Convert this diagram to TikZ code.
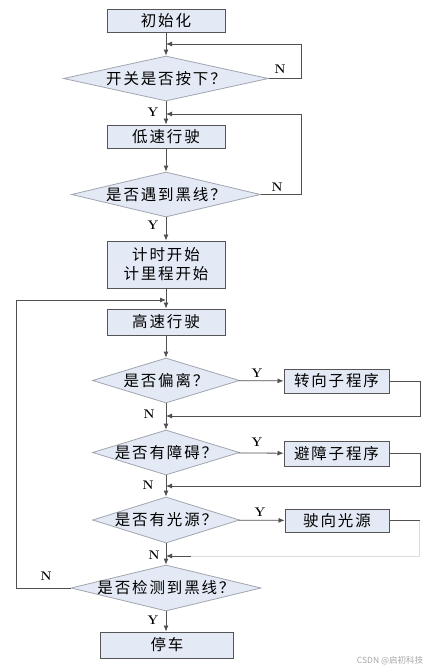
\documentclass[tikz,border=0pt]{standalone}
\usepackage{fontspec}
\usepackage{tikz}
\usetikzlibrary{arrows.meta, shapes.geometric, calc}
\newfontfamily\cjk[LetterSpace=12]{Noto Sans CJK SC}
\newfontfamily\cjkmark{Noto Sans CJK SC}
\definecolor{boxF}{RGB}{228,234,245}
\definecolor{boxD}{RGB}{85,85,85}
\definecolor{diaD}{RGB}{160,165,175}
\definecolor{lineC}{RGB}{80,80,80}
\definecolor{lineL}{RGB}{220,220,220}
\tikzset{
  procbox/.style={draw=boxD, line width=1pt, fill=boxF, inner sep=0pt,
    align=center, font=\cjk\fontsize{15.5}{19}\selectfont},
  testbox/.style={diamond, draw=diaD, line width=0.8pt, fill=boxF,
    inner xsep=-25pt, inner ysep=-6pt,
    aspect=5, minimum height=45pt, font=\cjk\fontsize{15.5}{19}\selectfont},
  flow/.style={draw=lineC, line width=0.8pt},
  arr/.style={flow, -{Latex[length=6pt, width=5pt]}},
  yn/.style={font=\bfseries\fontsize{12.5}{13}\selectfont, inner sep=0pt}
}

\begin{document}
\begin{tikzpicture}[x=1pt, y=-1pt]
\useasboundingbox (0,0) rectangle (432,672);
% main column
\node[procbox, minimum width=118pt, minimum height=23pt] (init) at (166,20.5) {初始化};
\node[testbox, minimum width=205pt] (sw) at (166,78.5) {开关是否按下？};
\node[procbox, minimum width=118pt, minimum height=23pt] (slow) at (166,136.5) {低速行驶};
\node[testbox, minimum width=189pt] (line1) at (166,194.5) {是否遇到黑线？};
\node[procbox, minimum width=118pt, minimum height=47pt] (timer) at (166,264.5) {计时开始\\计里程开始};
\node[procbox, minimum width=118pt, minimum height=26pt] (fast) at (166,322) {高速行驶};
\node[testbox, minimum width=147pt] (dev) at (166,380.5) {是否偏离？};
\node[testbox, minimum width=147pt] (obs) at (166,452.5) {是否有障碍？};
\node[testbox, minimum width=147pt, minimum height=46pt] (lite) at (166,520) {是否有光源？};
\node[testbox, minimum width=190pt, minimum height=46pt] (line2) at (166,588) {是否检测到黑线？};
\node[procbox, minimum width=133pt, minimum height=26pt] (stop) at (167,645) {停车};
% side boxes
\node[procbox, minimum width=105pt, minimum height=24pt] (turn) at (336.5,381) {转向子程序};
\node[procbox, minimum width=105pt, minimum height=25pt] (avoid) at (336.5,453.5) {避障子程序};
\node[procbox, minimum width=104pt, minimum height=23pt] (seek) at (337,520.5) {驶向光源};
% join points on the main line
\coordinate (j1) at (166,44);
\coordinate (j2) at (166,114);
\coordinate (j3) at (166,300);
\coordinate (j4) at (166,416);
\coordinate (j5) at (166,486);
\coordinate (j6) at (166,556);
% downward flow
\draw[arr] (init) -- (sw);
\draw[arr] (sw) -- (slow);
\draw[arr] (slow) -- (line1);
\draw[arr] (line1) -- (timer);
\draw[arr] (timer) -- (fast);
\draw[arr] (fast) -- (dev);
\draw[arr] (dev) -- (obs);
\draw[arr] (obs) -- (lite);
\draw[arr] (lite) -- (line2);
\draw[arr] (line2.south) -- (stop.north -| line2.south);
% yes branches
\draw[arr] (dev) -- (turn);
\draw[arr] (obs) -- (avoid);
\draw[arr] (lite) -- (seek);
% loops back
\draw[arr] (sw.east) -- ++(32,0) |- (j1);
\draw[arr] (line1.east) -- ++(40,0) |- (j2);
\draw[arr] (turn.east) -- ++(30.5,0) |- (j4);
\draw[arr] (avoid.east) -- ++(30.5,0) |- (j5);
\draw[flow] (seek.east) -- ++(30,0) coordinate (c6);
\draw[draw=lineL, line width=0.8pt] (c6) |- ($(j6)+(20,0)$);
\draw[arr] ($(j6)+(25,0)$) -- (j6);
\draw[arr] (line2.west) -- ++(-54,0) |- (j3);
% labels
\node[yn] at (280,69) {N};
\node[yn] at (153,112) {Y};
\node[yn] at (277,187) {N};
\node[yn] at (153,225) {Y};
\node[yn] at (257,373) {Y};
\node[yn] at (149,414) {N};
\node[yn] at (257,442) {Y};
\node[yn] at (148,485) {N};
\node[yn] at (260,512) {Y};
\node[yn] at (154,555) {N};
\node[yn] at (46,576) {N};
\node[yn] at (153,620) {Y};
\node[font=\cjkmark\fontsize{8.5}{10}\selectfont, text=black!35] at (390,661) {CSDN @启初科技};
\end{tikzpicture}
\end{document}
